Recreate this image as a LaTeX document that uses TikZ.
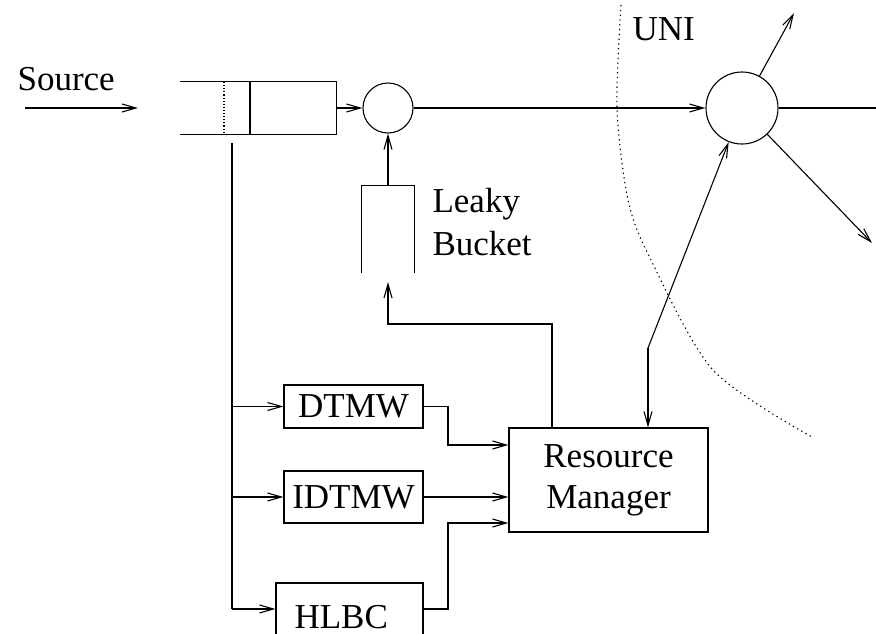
\documentclass[tikz,border=0pt]{standalone}
\usepackage{fontspec}
\setmainfont{Liberation Serif}
\usetikzlibrary{arrows.meta}
\begin{document}
\begin{tikzpicture}[x=1pt,y=-1pt,line width=1.1pt,
  arr/.style={-{Straight Barb[length=14pt,width=8pt,line width=1.1pt]}},
  lbl/.style={font=\fontsize{35}{41}\selectfont,inner sep=0pt},
  boxn/.style={draw,rectangle,inner sep=0pt},
  hole/.style={rectangle,inner sep=0pt}]
\useasboundingbox (0,0) rectangle (876,633);
\clip (0,0) rectangle (876,633);
% source
\node[lbl,anchor=base west] (src) at (17,90) {Source};
\coordinate (sA) at (25,108);
\coordinate (sB) at (138,108);
\draw[arr] (sA) -- (sB);
% queue
\node[hole,minimum width=155pt,minimum height=52pt] (q) at (258.5,108) {};
\draw (q.north west) -- (q.north east) -- (q.south east) -- (q.south west);
\coordinate (qd) at (224,82);
\coordinate (qs) at (250,82);
\draw[dotted] (qd) -- (qd |- q.south);
\draw (qs) -- (qs |- q.south);
% circles
\node[draw,circle,minimum size=50pt,inner sep=0pt] (c1) at (388,108) {};
\node[draw,circle,minimum size=72pt,inner sep=0pt] (c2) at (742,108) {};
\draw[arr] (q.east) -- (c1.west);
\draw[arr] (c1.east) -- (c2.west);
\coordinate (out0) at (876,108);
\coordinate (out1) at (794,13);
\coordinate (out2) at (872,243);
\draw (c2.east) -- (out0);
\draw[arr] (c2) -- (out1);
\draw[arr] (c2) -- (out2);
% UNI
\node[lbl,anchor=base west] (uni) at (632,40) {UNI};
\draw[line width=1.1pt,dash pattern=on 1.3pt off 3.5pt] plot[smooth] coordinates {(621,5) (617,108) (628,200) (650,258) (713,370) (812,437)};
% leaky bucket
\node[hole,minimum width=52pt,minimum height=86pt] (bk) at (388,229) {};
\draw (bk.south west) -- (bk.north west) -- (bk.north east) -- (bk.south east);
\draw[arr] (bk.north) -- (c1.south);
\node[lbl,anchor=base west] (lk) at (432,212) {Leaky};
\node[lbl,anchor=base west] (bu) at (432,255) {Bucket};
% resource manager
\node[boxn,minimum width=199pt,minimum height=104pt,lbl,align=center] (rm) at (608.5,480) {Resource\\Manager};
% side boxes
\node[boxn,lbl,minimum width=139pt,minimum height=43pt] (dt) at (353.5,406.5) {DTMW};
\node[boxn,lbl,minimum width=139pt,minimum height=52pt] (id) at (353.5,497) {IDTMW};
\node[draw,rectangle,minimum width=147pt,minimum height=80pt,inner sep=0pt] (hl) at (349.5,623) {};
\node[lbl,anchor=base west] (hlt) at (294,628) {HLBC};
% trunk
\coordinate (t0) at (232,143);
\coordinate (b1) at (232,406.5);
\coordinate (b2) at (232,497);
\coordinate (b3) at (232,609);
\draw (t0) -- (b3);
\draw[arr] (b1) -- (dt.west);
\draw[arr] (b2) -- (id.west);
\draw[arr] (b3) -- (b3 -| hl.west);
% into RM
\coordinate (m1) at (448,445);
\coordinate (m3) at (448,523);
\draw[arr] (dt.east) -| (m1) -- (m1 -| rm.west);
\draw[arr] (id.east) -- (id.east -| rm.west);
\draw[arr] (b3 -| hl.east) -| (m3) -- (m3 -| rm.west);
% RM to bucket
\coordinate (rt) at (552,324);
\coordinate (bkin) at (388,282);
\draw[arr] (rm.north -| rt) -- (rt) -| (bkin);
% RM to c2
\coordinate (k) at (648,348);
\draw[arr] (k) -- (c2);
\draw[arr] (k) -- (k |- rm.north);
\end{tikzpicture}
\end{document}
